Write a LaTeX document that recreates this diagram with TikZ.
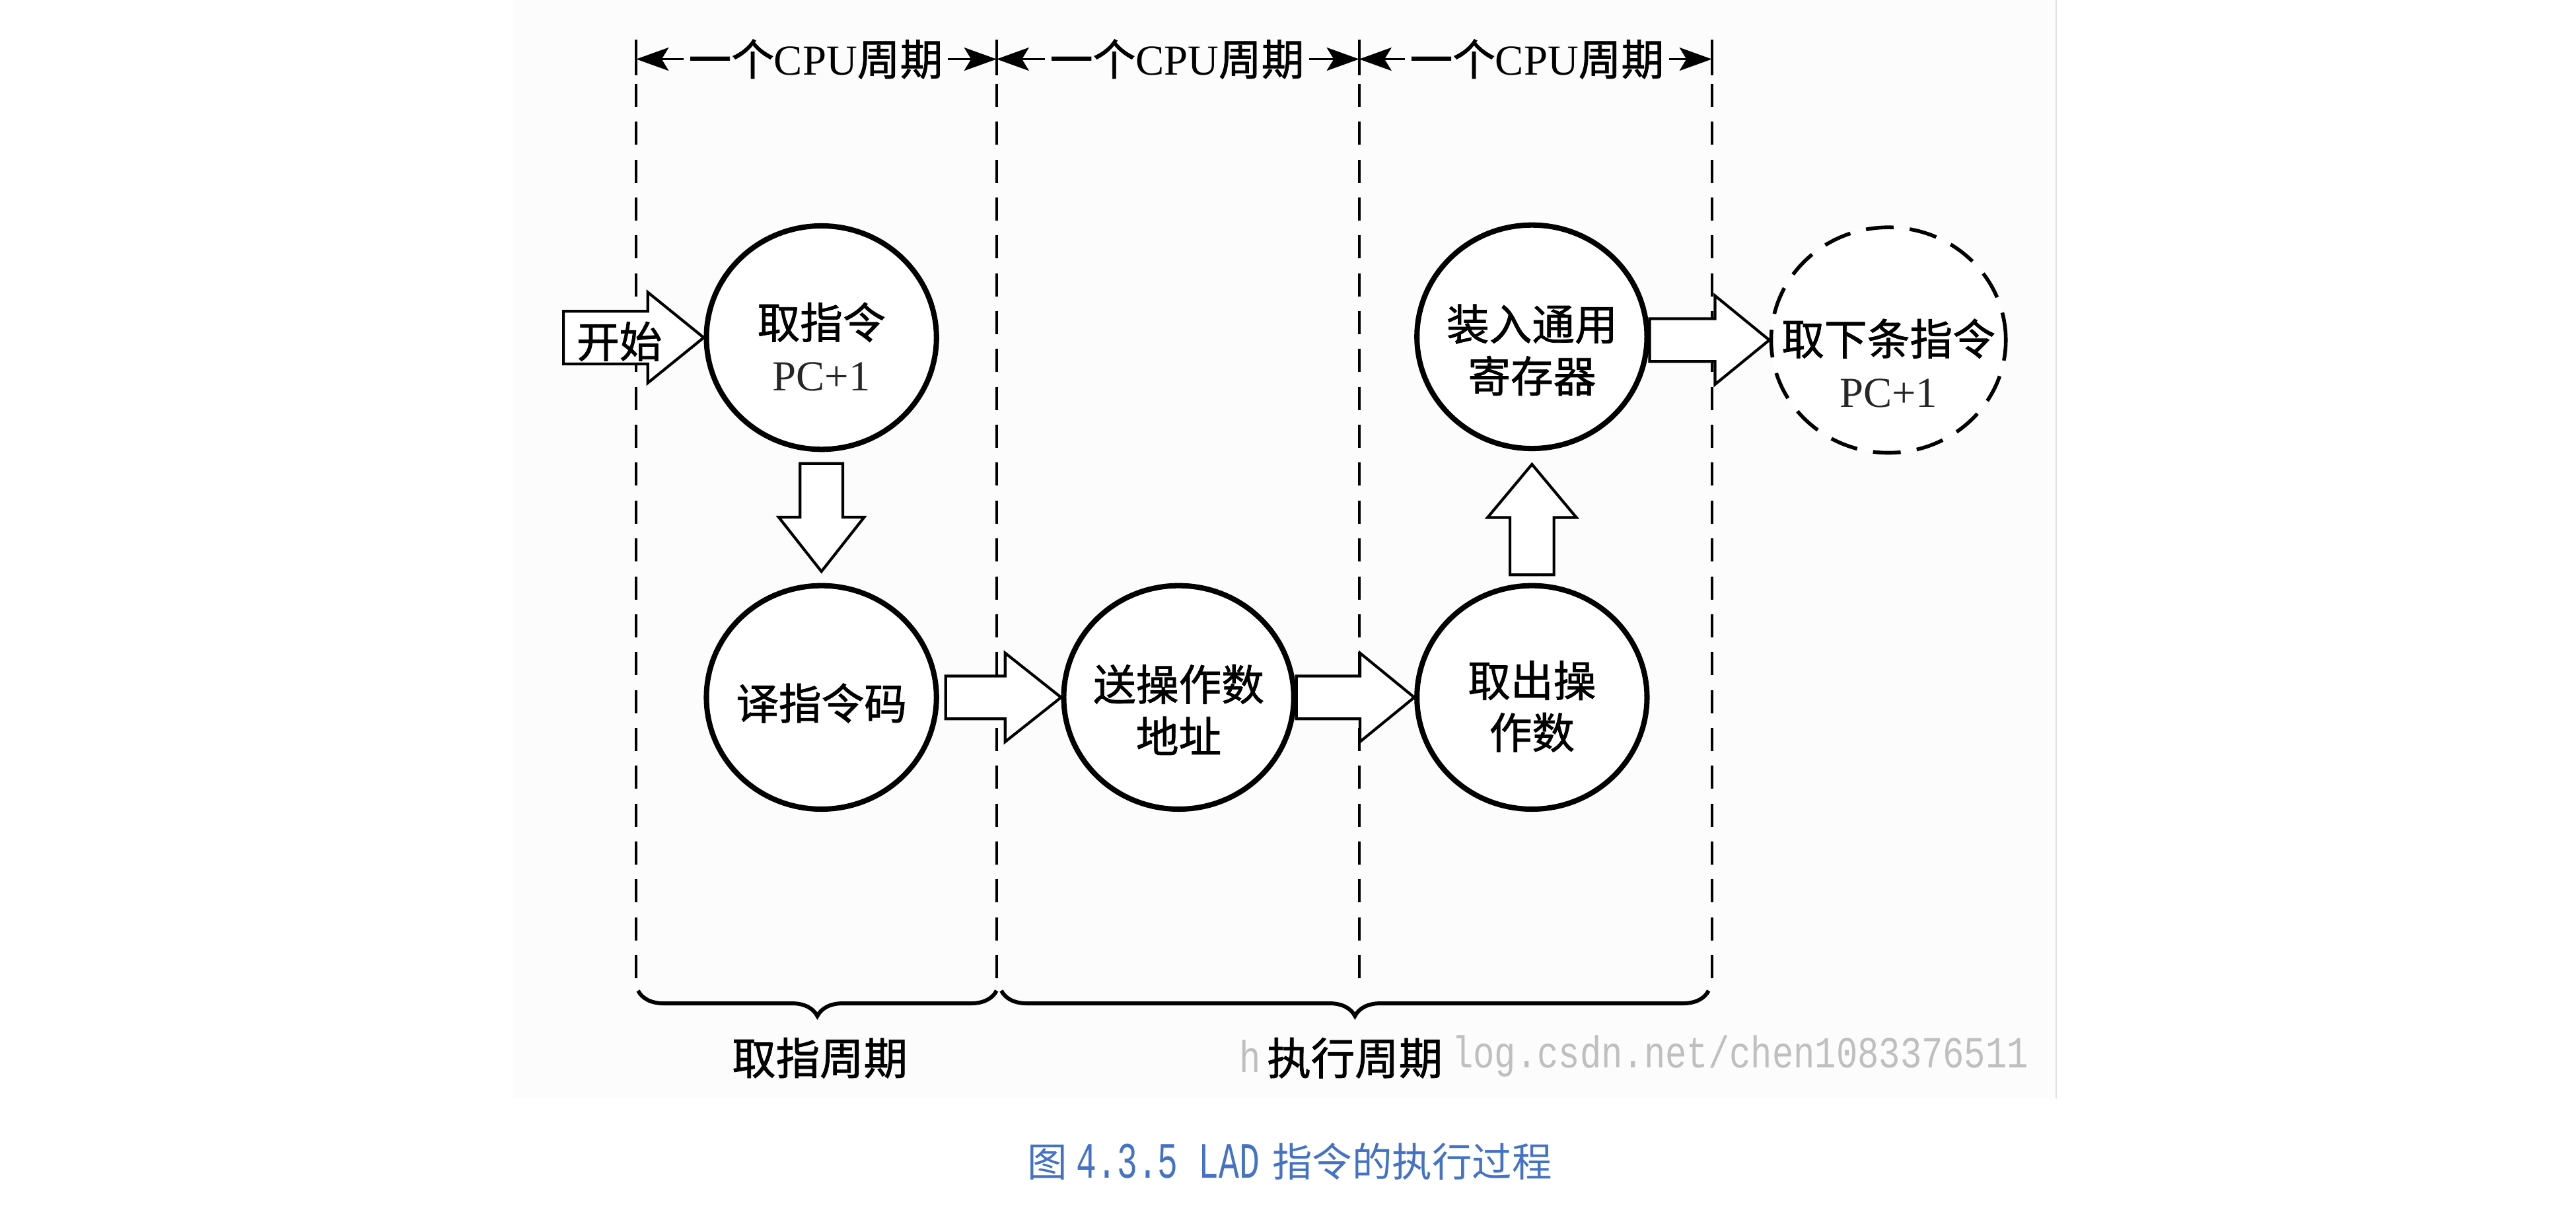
\documentclass[tikz,border=0pt]{standalone}
\usepackage{fontspec}
\setmainfont{Liberation Serif}
\newfontfamily\cjk{Noto Sans CJK SC}[FakeBold=1.2]
\newfontfamily\cjkcap{Noto Sans CJK SC}
\newfontfamily\wmfont{Liberation Mono}
\usetikzlibrary{shapes.geometric,arrows.meta,decorations.pathreplacing,calc}
\definecolor{capblue}{RGB}{68,114,196}
\definecolor{panelbg}{RGB}{252,252,252}

% block arrows: #1 tail, #2 tip, #3 body half, #4 head half, #5 head length
\newcommand\blkR[5]{\draw[blk] let \p1=(#1), \p2=(#2) in
  (\x1,\y2+#3) -- (\x2-#5,\y2+#3) -- (\x2-#5,\y2+#4) -- (\x2,\y2) --
  (\x2-#5,\y2-#4) -- (\x2-#5,\y2-#3) -- (\x1,\y2-#3) -- cycle;}
\newcommand\blkD[5]{\draw[blk] let \p1=(#1), \p2=(#2) in
  (\x2-#3,\y1) -- (\x2-#3,\y2+#5) -- (\x2-#4,\y2+#5) -- (\x2,\y2) --
  (\x2+#4,\y2+#5) -- (\x2+#3,\y2+#5) -- (\x2+#3,\y1) -- cycle;}
\newcommand\blkU[5]{\draw[blk] let \p1=(#1), \p2=(#2) in
  (\x2-#3,\y1) -- (\x2-#3,\y2-#5) -- (\x2-#4,\y2-#5) -- (\x2,\y2) --
  (\x2+#4,\y2-#5) -- (\x2+#3,\y2-#5) -- (\x2+#3,\y1) -- cycle;}

\tikzset{
  stage/.style={draw, line width=2.3pt, ellipse, minimum width=3.5cm,
    minimum height=3.4cm, inner sep=0pt, fill=white},
  stagedash/.style={stage, line width=1.6pt, dash pattern=on 12pt off 7pt,
    minimum width=3.57cm, minimum height=3.43cm},
  txt/.style={align=center, inner sep=0pt,
    font=\cjk\fontsize{18.5}{22.5}\selectfont},
  blk/.style={draw, line width=1.2pt, fill=white, line join=miter},
  vsolid/.style={line width=1.1pt},
  vdash/.style={line width=1.1pt, dash pattern=on 10pt off 6.4pt},
  dimlab/.style={inner sep=2pt, font=\cjk\fontsize{18.5}{20}\selectfont},
  dimarrow/.style={line width=1.1pt, -{Stealth[length=14pt,width=10pt,inset=3pt]}},
  brc/.style={line width=1.7pt, decorate, decoration={brace, mirror, amplitude=11pt}},
  blab/.style={inner sep=0pt, font=\cjk\fontsize{19}{21}\selectfont},
  wm/.style={inner sep=0pt, text=black!25, font=\wmfont\fontsize{15.4}{16}\selectfont},
}

\begin{document}
\begin{tikzpicture}[x=0.025cm, y=0.025cm]
\useasboundingbox (0,0) rectangle (1568,-741);
% faint panel
\fill[panelbg] (312,0) rectangle (1251.7,-668.7);
\draw[black!12, line width=0.6pt] (1251.7,0) -- (1251.7,-668.7);

% cycle boundary lines
\foreach \i/\xx in {0/387.3, 1/606.6, 2/827.3, 3/1042} {
  \coordinate (v\i) at (\xx,-24);
  \coordinate (w\i) at (\xx,-601);
  \draw[vsolid] (v\i) -- ++(0,-22);
  \draw[vdash] ($(v\i)+(0,-27)$) -- (w\i);
}

% top dimension labels
\node[dimlab] (d1) at (496.5,-36) {一个{\rmfamily CPU}周期};
\node[dimlab] (d2) at (716.5,-36) {一个{\rmfamily CPU}周期};
\node[dimlab] (d3) at (935.5,-36) {一个{\rmfamily CPU}周期};
\draw[dimarrow] (d1.west) -- (d1.west -| v0);
\draw[dimarrow] (d1.east) -- (d1.east -| v1);
\draw[dimarrow] (d2.west) -- (d2.west -| v1);
\draw[dimarrow] (d2.east) -- (d2.east -| v2);
\draw[dimarrow] (d3.west) -- (d3.west -| v2);
\draw[dimarrow] (d3.east) -- (d3.east -| v3);

% stages
\node[stage] (c1) at (500,-205.5) {};
\node[stage] (c2) at (500,-424.5) {};
\node[stage] (c3) at (717.5,-424.5) {};
\node[stage] (c4) at (932.5,-424.5) {};
\node[stage] (c5) at (932.5,-205) {};
\node[stagedash] (c6) at (1149.5,-207) {};

% block arrows
\coordinate (s0) at (343,-206.4);
\blkR{s0}{c1.west}{11.4pt}{19.6pt}{24.2pt}
\node[txt] (st) at (377,-207.8) {开始};
\blkD{$(c1.south)+(0,-7)$}{$(c2.north)+(0,7)$}{9.25pt}{18.5pt}{23.5pt}
\blkR{$(c2.east)+(4,0)$}{c3.west}{9.25pt}{19.2pt}{24.2pt}
\blkR{c3.east}{c4.west}{9.25pt}{19.2pt}{23.5pt}
\blkU{$(c4.north)+(0,5)$}{$(c5.south)+(0,-8)$}{9.5pt}{19.2pt}{23pt}
\blkR{c5.east}{c6.west}{9.25pt}{19.2pt}{23.5pt}

% stage texts
\node[txt] (t1) at (500,-211) {取指令\\{\rmfamily\color{black!85}PC+1}};
\node[txt] (t2) at (500,-428) {译指令码};
\node[txt] (t3) at (717.5,-432) {送操作数\\地址};
\node[txt] (t4) at (932.5,-430) {取出操\\作数};
\node[txt] (t5) at (932.5,-213) {装入通用\\寄存器};
\node[txt] (t6) at (1149.5,-221) {取下条指令\\{\rmfamily\color{black!85}PC+1}};

% braces
\draw[brc] (388.4,-603) -- (606.6,-603);
\draw[brc] (609.5,-603) -- (1040,-603);
\node[blab] (f1) at (499,-644) {取指周期};
\node[blab] (f2) at (824.7,-644) {执行周期};

% watermark (visible parts)
\node[wm, anchor=west] (wm1) at (754,-643) {\scalebox{1}[1.25]{h}};
\node[wm, anchor=east] (wm2) at (1235,-643) {\scalebox{1}[1.25]{log.csdn.net/chen1083376511}};

% caption
\node[inner sep=0pt, text=capblue] (cap) at (785,-707)
  {{\cjkcap\fontsize{17.3}{18}\selectfont 图}\hspace{4pt}\raisebox{-0.5pt}{\scalebox{1}[1.5]{\wmfont\fontsize{14.7}{16}\selectfont 4.3.5 LAD}}\hspace{0.35em}{\cjkcap\fontsize{17.3}{18}\selectfont\hspace{2pt}指令的执行过程}};
\end{tikzpicture}
\end{document}
